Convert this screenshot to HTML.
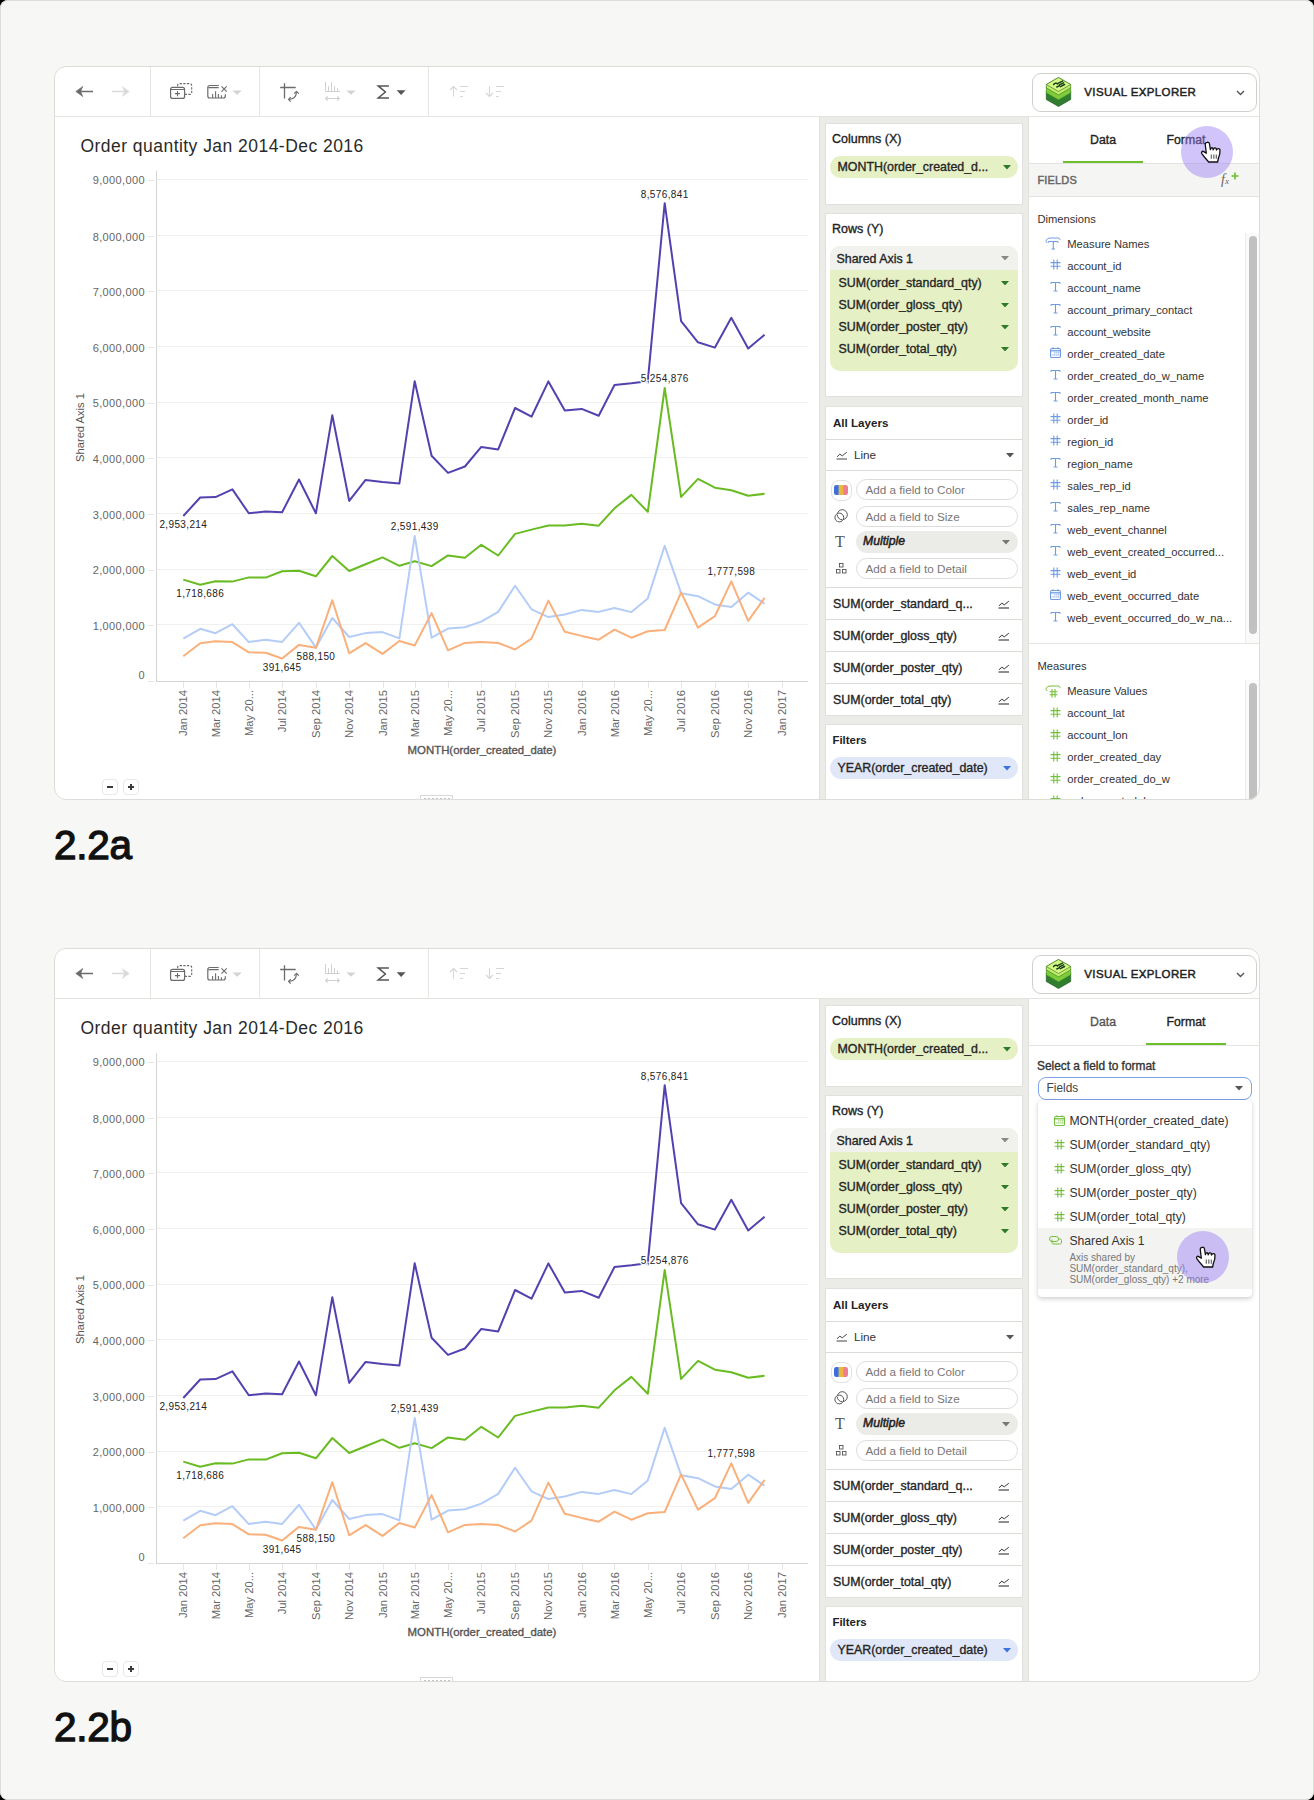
<!DOCTYPE html>
<html><head><meta charset="utf-8"><style>
*{margin:0;padding:0}
html,body{width:1314px;height:1800px;overflow:hidden;background:#000;font-family:"Liberation Sans", sans-serif;position:relative}
.pagebg{position:absolute;left:0;top:0;width:1314px;height:1800px;border-radius:8px;background:#f7f7f5}
.frame{position:absolute;left:0;top:0;width:1314px;height:1800px;border-radius:8px;border:1px solid #dcdeda;box-sizing:border-box;pointer-events:none}
i{font-style:normal;line-height:0;display:block}
svg{display:block}
.panel{position:absolute;left:54px;width:1206px;height:734px;box-sizing:border-box;border:1px solid #dcddd9;border-radius:12px;background:transparent}
.vs{position:absolute;width:1px;height:49px;background:#e6e6e3}
.title{position:absolute;left:80.5px;font-size:17.5px;letter-spacing:0.46px;color:#2a2a2a;line-height:21px;white-space:nowrap}
.yl{position:absolute;right:1169px;width:80px;text-align:right;font-size:11px;letter-spacing:0.38px;color:#666;line-height:14px;white-space:nowrap}
.yl{left:65px}
.xl{position:absolute;top:690px;width:60px;height:12px;transform-origin:0 0;transform:rotate(-90deg) translate(-60px,0);text-align:right;font-size:11.2px;color:#666;line-height:12px;white-space:nowrap}
.dl{position:absolute;width:80px;text-align:center;font-size:10px;letter-spacing:0.37px;color:#222;line-height:14px;white-space:nowrap;text-shadow:-1px 0 #fff,1px 0 #fff,0 -1px #fff,0 1px #fff,-1px -1px #fff,1px 1px #fff,-1px 1px #fff,1px -1px #fff}
.yt{position:absolute;left:73.8px;width:69px;height:12px;font-size:11.2px;color:#555;line-height:12px;white-space:nowrap;transform-origin:0 0;transform:rotate(-90deg) translate(-69px,0)}
.xt{position:absolute;left:382px;top:743.5px;width:200px;text-align:center;font-size:11.4px;font-weight:400;-webkit-text-stroke:0.35px #555;color:#555;line-height:13px;white-space:nowrap}
.zb{position:absolute;width:16px;height:16px;box-sizing:border-box;border:1px solid #e6e8e4;border-radius:4px;background:#fff;line-height:0}
.zb svg{position:absolute;left:-1px;top:-1px}
.mid{position:absolute;left:819px;width:209px;height:682px;background:#ebece8;border-left:1px solid #e0e1dd;box-sizing:border-box}
.card{position:absolute;left:825px;width:198px;box-sizing:border-box;border:1px solid #e0e1dd;background:#fff}
.lbl{position:absolute;font-size:12.5px;font-weight:400;-webkit-text-stroke:0.35px #222;color:#222;line-height:14px;white-space:nowrap}
.b11{position:absolute;font-size:12.4px;font-weight:400;-webkit-text-stroke:0.35px #252525;color:#252525;line-height:14px;white-space:nowrap}
.r12{position:absolute;font-size:11.7px;color:#333;line-height:14px;white-space:nowrap}
.bi{position:absolute;font-size:12.2px;font-weight:400;-webkit-text-stroke:0.5px #222;font-style:italic;color:#222;line-height:14px;white-space:nowrap}
.pill{position:absolute;border-radius:11px}
.pill.g{background:#e5f0c5}
.pill.b{background:#dfe7f8}
.pill span{position:absolute;top:4px;font-size:12.4px;font-weight:400;-webkit-text-stroke:0.35px #252525;color:#252525;line-height:14px;white-space:nowrap}
.pill i{position:absolute;line-height:0}
.hl{position:absolute;left:826px;width:196px;height:1px;background:#dadcd8}
.ibox{position:absolute;box-sizing:border-box;border:1px solid #e0e0de;background:#fff}
.inp{position:absolute;left:856px;width:162px;height:21px;box-sizing:border-box;border:1px solid #dcdcda;border-radius:10.5px;background:#fff}
.inp span{position:absolute;left:8.5px;top:3px;font-size:11.7px;color:#777;line-height:14px;white-space:nowrap}
.rp{position:absolute;left:1028px;width:231px;height:682px;background:#fff;border-left:1px solid #e0e1dd;box-sizing:border-box}
.tab{position:absolute;width:80px;text-align:center;font-size:12.3px;font-weight:400;-webkit-text-stroke:0.35px currentColor;line-height:14px}
.r11{position:absolute;font-size:11.2px;color:#333;line-height:14px;white-space:nowrap}
.r12b{position:absolute;font-size:12.2px;color:#333;line-height:15px;white-space:nowrap}
.track{position:absolute;left:1245px;width:14px;background:#fafafa;border-left:1px solid #ececec;box-sizing:border-box}
.thumb{position:absolute;left:1249px;width:8px;border-radius:4px;background:#c1c1c1}
.hl2{position:absolute;left:1029px;width:230px;height:1px;background:#e3e4e0}
.hl3{position:absolute;left:1029px;width:230px;height:1px;background:#e3e4e0}
.big{position:absolute;left:54px;font-size:40.5px;letter-spacing:-0.3px;font-weight:400;-webkit-text-stroke:1.3px #111;color:#111;line-height:46px}
</style></head><body><div class="pagebg"></div>
<div style="position:absolute;left:54px;top:66px;width:1206px;height:734px;overflow:hidden;border-radius:12px;background:#fff"><div style="position:absolute;left:-54px;top:-66px;width:1314px;height:1800px">
<div style="position:absolute;left:55px;top:116px;width:1204px;height:1px;background:#e3e4e0"></div>
<div class="vs" style="left:150px;top:67px"></div>
<div class="vs" style="left:259px;top:67px"></div>
<div class="vs" style="left:428px;top:67px"></div>

<svg style="position:absolute;left:0;top:0px" width="1314" height="130">
 <!-- back arrow -->
 <path d="M79 91.5H93" stroke="#6b6b6b" stroke-width="1.7"/>
 <path d="M75.8 91.5L82.8 86.4L80.6 91.5L82.8 96.6Z" fill="#6b6b6b" stroke="#6b6b6b" stroke-width="0.6" stroke-linejoin="round"/>
 <!-- fwd arrow -->
 <path d="M112 91.5H126" stroke="#d9d9d9" stroke-width="1.5"/>
 <path d="M129.2 91.5L122.4 86.6L124.5 91.5L122.4 96.4Z" fill="#d9d9d9" stroke="#d9d9d9" stroke-width="0.5" stroke-linejoin="round"/>
 <!-- duplicate -->
 <path d="M177.6 86.3V85.6Q177.6 83.6 179.6 83.6H189.7Q191.7 83.6 191.7 85.6V92.4Q191.7 94.4 189.7 94.4H185" stroke="#6b6b6b" stroke-width="1.1" fill="none" stroke-dasharray="2.3 1.3"/>
 <rect x="170.6" y="87.4" width="14" height="11" rx="2" stroke="#6b6b6b" stroke-width="1.2" fill="#fff"/>
 <path d="M170.6 89.5H184.6" stroke="#6b6b6b" stroke-width="1"/>
 <path d="M177.5 91V96.2M174.9 93.6H180.1" stroke="#6b6b6b" stroke-width="1.1"/>
 <!-- clear chart -->
 <path d="M218.7 85.5H209.8Q207.8 85.5 207.8 87.5V96Q207.8 98 209.8 98H223.3Q225.3 98 225.3 96V94.2" stroke="#6b6b6b" stroke-width="1.2" fill="none"/>
 <path d="M208.3 87.6H218.7" stroke="#6b6b6b" stroke-width="1.1"/>
 <path d="M212.6 98V94M215.6 98V91.2M218.4 98V94M221.4 98V95.2" stroke="#6b6b6b" stroke-width="1.1"/>
 <path d="M221.5 86.4L226.7 91.6M226.7 86.4L221.5 91.6" stroke="#6b6b6b" stroke-width="1.1"/>
 <path d="M232.4 90.5H241.8L237.1 94.8Z" fill="#d2d4d1"/>
 <!-- swap axes -->
 <path d="M280.2 87.5H295.7M284.5 83.2V98.6" stroke="#6b6b6b" stroke-width="1.3" fill="none"/>
 <path d="M289.2 99.3Q295.8 99.2 296.5 92.2" stroke="#6b6b6b" stroke-width="1.2" fill="none"/>
 <path d="M290.7 97.1L288.5 99.4L290.7 101.7M294.2 93.7L296.5 91.4L298.8 93.7" stroke="#6b6b6b" stroke-width="1.2" fill="none" stroke-linejoin="round"/>
 <!-- sort bars disabled -->
 <path d="M325.5 82V91.5H340M328.5 91V86.2M331.5 91V82.2M334.5 91V86.2M337.5 91V88.2" stroke="#d0d0d0" stroke-width="1" fill="none"/>
 <path d="M325.6 98.5H339.4M327.8 96.3L325.6 98.5L327.8 100.7M337.2 96.3L339.4 98.5L337.2 100.7" stroke="#d0d0d0" stroke-width="1.1" fill="none"/>
 <path d="M346.4 90.4H355.6L351 94.8Z" fill="#d2d4d1"/>
 <!-- sigma -->
 <path d="M388.9 85.9H378.2L385.4 92L378.2 98H389" stroke="#555" stroke-width="1.5" fill="none" stroke-linejoin="miter" stroke-miterlimit="10"/>
 <path d="M396.7 90.3H405.6L401.1 94.9Z" fill="#555"/>
 <!-- sort asc -->
 <path d="M453.5 96.6V86.8M450 90L453.5 86.5L457 90" stroke="#d6d6d6" stroke-width="1.1" fill="none"/>
 <path d="M460 86.5H468M460 91.5H465M460 96.5H463" stroke="#d6d6d6" stroke-width="1.1"/>
 <!-- sort desc -->
 <path d="M489.5 86.3V96.2M486 93L489.5 96.5L493 93" stroke="#d6d6d6" stroke-width="1.1" fill="none"/>
 <path d="M496 86.5H504M496 91.5H501M496 96.5H499" stroke="#d6d6d6" stroke-width="1.1"/>
</svg>
<div style="position:absolute;left:1031.5px;top:72.5px;width:225px;height:39px;box-sizing:border-box;border:1px solid #cfd0cc;border-radius:9px;background:#fff"></div>
<i style="position:absolute;left:1045px;top:76px;line-height:0"><svg width="27" height="32" viewBox="0 0 27 32"><path d="M13.5 8.2L25.7 15.2V23.5L13.5 30.5L1.3000000000000007 23.5V15.2Z" fill="#2f7d2f" stroke="#215f25" stroke-width="0.7" stroke-linejoin="round"/><path d="M13.5 4.6L25.7 11.6V16.8L13.5 23.8L1.3000000000000007 16.8V11.6Z" fill="#7ccd37" stroke="#4b9a2c" stroke-width="0.7" stroke-linejoin="round"/><path d="M13.5 1.5L25.7 8.5V11.9L13.5 18.9L1.3000000000000007 11.9V8.5Z" fill="#c3ec68" stroke="#3f7f27" stroke-width="0.7" stroke-linejoin="round"/><path d="M13.5 1.5L25.7 8.5L13.5 15.5L1.3000000000000007 8.5Z" fill="#d6f783" stroke="#3f7f27" stroke-width="0.7" stroke-linejoin="round"/><path d="M8.6 8.6c0.9-1.6 3.2-1.9 3.9-0.6M13.4 7.2l4.2-2.1M14.4 8.9l4.2-2.1M15.4 10.6l4.2-2.1M11.8 11l2.4-1.2" stroke="#173f1c" stroke-width="1.5" fill="none" stroke-linecap="round"/></svg></i>
<div style="position:absolute;left:1084.3px;top:86px;font-size:11.5px;font-weight:400;-webkit-text-stroke:0.45px #222;letter-spacing:0.38px;color:#222;line-height:13px">VISUAL EXPLORER</div>
<svg style="position:absolute;left:1236px;top:90px" width="9" height="6" viewBox="0 0 9 6"><path d="M1 1L4.5 4.5L8 1" stroke="#555" stroke-width="1.4" fill="none"/></svg>
<div class="title" style="top:136px">Order quantity Jan 2014-Dec 2016</div>
<svg style="position:absolute;left:0;top:0px" width="820" height="800"><line x1="157" y1="624.5" x2="808" y2="624.5" stroke="#f0f0ef" stroke-width="1"/>
<line x1="148" y1="625.5" x2="154" y2="625.5" stroke="#e6e6e4" stroke-width="1"/>
<line x1="157" y1="569.5" x2="808" y2="569.5" stroke="#f0f0ef" stroke-width="1"/>
<line x1="148" y1="570.5" x2="154" y2="570.5" stroke="#e6e6e4" stroke-width="1"/>
<line x1="157" y1="513.5" x2="808" y2="513.5" stroke="#f0f0ef" stroke-width="1"/>
<line x1="148" y1="514.5" x2="154" y2="514.5" stroke="#e6e6e4" stroke-width="1"/>
<line x1="157" y1="457.5" x2="808" y2="457.5" stroke="#f0f0ef" stroke-width="1"/>
<line x1="148" y1="458.5" x2="154" y2="458.5" stroke="#e6e6e4" stroke-width="1"/>
<line x1="157" y1="402.5" x2="808" y2="402.5" stroke="#f0f0ef" stroke-width="1"/>
<line x1="148" y1="403.5" x2="154" y2="403.5" stroke="#e6e6e4" stroke-width="1"/>
<line x1="157" y1="346.5" x2="808" y2="346.5" stroke="#f0f0ef" stroke-width="1"/>
<line x1="148" y1="347.5" x2="154" y2="347.5" stroke="#e6e6e4" stroke-width="1"/>
<line x1="157" y1="290.5" x2="808" y2="290.5" stroke="#f0f0ef" stroke-width="1"/>
<line x1="148" y1="291.5" x2="154" y2="291.5" stroke="#e6e6e4" stroke-width="1"/>
<line x1="157" y1="235.5" x2="808" y2="235.5" stroke="#f0f0ef" stroke-width="1"/>
<line x1="148" y1="236.5" x2="154" y2="236.5" stroke="#e6e6e4" stroke-width="1"/>
<line x1="157" y1="179.5" x2="808" y2="179.5" stroke="#f0f0ef" stroke-width="1"/>
<line x1="148" y1="180.5" x2="154" y2="180.5" stroke="#e6e6e4" stroke-width="1"/>
<line x1="156.5" y1="171" x2="156.5" y2="681" stroke="#d4d4d2" stroke-width="1"/>
<line x1="156" y1="681.5" x2="808" y2="681.5" stroke="#d4d4d2" stroke-width="1"/>
<line x1="148" y1="681.5" x2="154" y2="681.5" stroke="#e6e6e4" stroke-width="1"/>
<line x1="183.5" y1="682" x2="183.5" y2="688" stroke="#e6e6e4" stroke-width="1"/>
<line x1="216.5" y1="682" x2="216.5" y2="688" stroke="#e6e6e4" stroke-width="1"/>
<line x1="249.5" y1="682" x2="249.5" y2="688" stroke="#e6e6e4" stroke-width="1"/>
<line x1="282.5" y1="682" x2="282.5" y2="688" stroke="#e6e6e4" stroke-width="1"/>
<line x1="316.5" y1="682" x2="316.5" y2="688" stroke="#e6e6e4" stroke-width="1"/>
<line x1="349.5" y1="682" x2="349.5" y2="688" stroke="#e6e6e4" stroke-width="1"/>
<line x1="383.5" y1="682" x2="383.5" y2="688" stroke="#e6e6e4" stroke-width="1"/>
<line x1="415.5" y1="682" x2="415.5" y2="688" stroke="#e6e6e4" stroke-width="1"/>
<line x1="448.5" y1="682" x2="448.5" y2="688" stroke="#e6e6e4" stroke-width="1"/>
<line x1="481.5" y1="682" x2="481.5" y2="688" stroke="#e6e6e4" stroke-width="1"/>
<line x1="515.5" y1="682" x2="515.5" y2="688" stroke="#e6e6e4" stroke-width="1"/>
<line x1="548.5" y1="682" x2="548.5" y2="688" stroke="#e6e6e4" stroke-width="1"/>
<line x1="582.5" y1="682" x2="582.5" y2="688" stroke="#e6e6e4" stroke-width="1"/>
<line x1="614.5" y1="682" x2="614.5" y2="688" stroke="#e6e6e4" stroke-width="1"/>
<line x1="648.5" y1="682" x2="648.5" y2="688" stroke="#e6e6e4" stroke-width="1"/>
<line x1="681.5" y1="682" x2="681.5" y2="688" stroke="#e6e6e4" stroke-width="1"/>
<line x1="715.5" y1="682" x2="715.5" y2="688" stroke="#e6e6e4" stroke-width="1"/>
<line x1="748.5" y1="682" x2="748.5" y2="688" stroke="#e6e6e4" stroke-width="1"/>
<line x1="782.5" y1="682" x2="782.5" y2="688" stroke="#e6e6e4" stroke-width="1"/>
<polyline points="183.3,579.6 200.2,584.7 215.5,581.3 232.4,581.6 248.8,577.4 265.7,577.6 282.1,571.3 299.0,570.8 315.9,576.3 332.3,556.0 349.2,571.0 365.6,564.3 382.5,557.4 399.4,565.8 414.7,561.3 431.6,566.1 448.0,555.4 464.9,557.7 481.3,544.8 498.2,555.5 515.1,533.9 531.5,529.6 548.4,525.5 564.8,525.5 581.7,523.8 598.7,525.7 614.5,508.3 631.4,494.9 647.8,511.8 664.7,388.0 681.1,496.9 698.0,478.9 714.9,487.7 731.3,490.3 748.2,495.8 764.6,493.8" fill="none" stroke="#69bb22" stroke-width="2" stroke-linejoin="round"/>
<polyline points="183.3,638.6 200.2,628.8 215.5,633.2 232.4,624.2 248.8,642.1 265.7,639.7 282.1,641.9 299.0,622.8 315.9,647.6 332.3,618.0 349.2,637.0 365.6,633.1 382.5,632.1 399.4,638.4 414.7,536.1 431.6,637.7 448.0,628.6 464.9,627.3 481.3,621.6 498.2,611.9 515.1,585.7 531.5,609.3 548.4,617.1 564.8,614.5 581.7,609.9 598.7,611.9 614.5,608.0 631.4,612.1 647.8,598.4 664.7,545.8 681.1,593.2 698.0,596.2 714.9,604.4 731.3,607.0 748.2,592.7 764.6,603.6" fill="none" stroke="#b4ccf8" stroke-width="2" stroke-linejoin="round"/>
<polyline points="183.3,656.2 200.2,643.3 215.5,641.2 232.4,642.1 248.8,652.3 265.7,652.7 282.1,658.5 299.0,644.9 315.9,647.8 332.3,600.2 349.2,653.3 365.6,643.1 382.5,653.9 399.4,641.0 414.7,645.5 431.6,613.1 448.0,650.3 464.9,642.9 481.3,642.0 498.2,643.0 515.1,649.5 531.5,638.7 548.4,600.6 564.8,631.7 581.7,635.9 598.7,639.7 614.5,629.6 631.4,637.7 647.8,631.2 664.7,630.0 681.1,592.4 698.0,627.7 714.9,616.2 731.3,581.4 748.2,620.8 764.6,597.9" fill="none" stroke="#f9b07b" stroke-width="2" stroke-linejoin="round"/>
<polyline points="183.3,516.0 200.2,497.5 215.5,497.1 232.4,489.4 248.8,513.3 265.7,511.4 282.1,512.3 299.0,479.5 315.9,513.3 332.3,415.2 349.2,500.9 365.6,479.9 382.5,481.9 399.4,483.4 414.7,381.2 431.6,455.7 448.0,472.9 464.9,466.5 481.3,446.9 498.2,449.4 515.1,408.0 531.5,416.7 548.4,381.4 564.8,410.4 581.7,408.9 598.7,415.7 614.5,385.0 631.4,383.3 647.8,381.2 664.7,203.2 681.1,321.2 698.0,342.3 714.9,347.6 731.3,317.8 748.2,348.4 764.6,334.7" fill="none" stroke="#5540b0" stroke-width="2" stroke-linejoin="round"/></svg>
<div style="position:absolute;left:0;top:0px;width:1px;height:1px">
<div class="yl" style="top:668.2px">0</div>
<div class="yl" style="top:618.9px">1,000,000</div>
<div class="yl" style="top:563.2px">2,000,000</div>
<div class="yl" style="top:507.6px">3,000,000</div>
<div class="yl" style="top:452.0px">4,000,000</div>
<div class="yl" style="top:396.3px">5,000,000</div>
<div class="yl" style="top:340.7px">6,000,000</div>
<div class="yl" style="top:285.1px">7,000,000</div>
<div class="yl" style="top:229.5px">8,000,000</div>
<div class="yl" style="top:172.6px">9,000,000</div>
<div class="xl" style="left:177.3px">Jan 2014</div>
<div class="xl" style="left:209.5px">Mar 2014</div>
<div class="xl" style="left:242.8px">May 20...</div>
<div class="xl" style="left:276.1px">Jul 2014</div>
<div class="xl" style="left:309.9px">Sep 2014</div>
<div class="xl" style="left:343.2px">Nov 2014</div>
<div class="xl" style="left:376.5px">Jan 2015</div>
<div class="xl" style="left:408.7px">Mar 2015</div>
<div class="xl" style="left:442.0px">May 20...</div>
<div class="xl" style="left:475.3px">Jul 2015</div>
<div class="xl" style="left:509.1px">Sep 2015</div>
<div class="xl" style="left:542.4px">Nov 2015</div>
<div class="xl" style="left:575.7px">Jan 2016</div>
<div class="xl" style="left:608.5px">Mar 2016</div>
<div class="xl" style="left:641.8px">May 20...</div>
<div class="xl" style="left:675.1px">Jul 2016</div>
<div class="xl" style="left:708.9px">Sep 2016</div>
<div class="xl" style="left:742.2px">Nov 2016</div>
<div class="xl" style="left:775.5px">Jan 2017</div>
<div class="dl" style="left:624.7px;top:187.5px">8,576,841</div>
<div class="dl" style="left:624.7px;top:372.2px">5,254,876</div>
<div class="dl" style="left:143.3px;top:518.3px">2,953,214</div>
<div class="dl" style="left:374.7px;top:520.2px">2,591,439</div>
<div class="dl" style="left:160.2px;top:587.4px">1,718,686</div>
<div class="dl" style="left:691.3px;top:565.2px">1,777,598</div>
<div class="dl" style="left:275.9px;top:650.1px">588,150</div>
<div class="dl" style="left:242.1px;top:661.1px">391,645</div>
<div class="yt" style="top:393px">Shared Axis 1</div>
<div class="xt">MONTH(order_created_date)</div>
<div class="zb" style="left:102px;top:779px"><svg width="16" height="16"><path d="M5 8H11" stroke="#3a3a3a" stroke-width="2"/></svg></div>
<div class="zb" style="left:123px;top:779px"><svg width="16" height="16"><path d="M5 8H11M8 5V11" stroke="#3a3a3a" stroke-width="2"/></svg></div>
<div style="position:absolute;left:420px;top:795px;width:33px;height:6px;box-sizing:border-box;border:1px solid #d8d8d8;border-bottom:none;background:#fff"></div><svg style="position:absolute;left:422px;top:797px" width="30" height="2"><path d="M2 1.5H30" stroke="#c4c6c3" stroke-width="1" stroke-dasharray="2 2"/></svg>
</div>

<div class="mid" style="top:117px"></div>
<div class="card" style="top:123px;height:82px"></div>
<div class="lbl" style="left:832px;top:132px">Columns (X)</div>
<div class="pill g" style="left:830px;top:156px;width:188px;height:22px"><span style="left:7.5px">MONTH(order_created_d...</span><i style="left:172.5px;top:9px"><svg width="8" height="4.5" viewBox="0 0 8 4.5"><path d="M0 0H8L4 4.5Z" fill="#2c7a2a"/></svg></i></div>
<div class="card" style="top:213px;height:184px"></div>
<div class="lbl" style="left:832px;top:222px">Rows (Y)</div>
<div style="position:absolute;left:830px;top:246px;width:188px;height:125px;border-radius:10px;overflow:hidden;background:#e6f0c5">
  <div style="position:absolute;left:0;top:0;width:188px;height:24px;background:#f1f2ee"></div>
  <div class="b11" style="left:6.5px;top:5.8px">Shared Axis 1</div><i style="position:absolute;left:171px;top:9.5px"><svg width="8" height="4.5" viewBox="0 0 8 4.5"><path d="M0 0H8L4 4.5Z" fill="#888"/></svg></i>
  <div class="b11" style="left:8.5px;top:29.8px">SUM(order_standard_qty)</div><i style="position:absolute;left:171px;top:34.5px"><svg width="8" height="4.5" viewBox="0 0 8 4.5"><path d="M0 0H8L4 4.5Z" fill="#2c7a2a"/></svg></i>
  <div class="b11" style="left:8.5px;top:51.8px">SUM(order_gloss_qty)</div><i style="position:absolute;left:171px;top:56.5px"><svg width="8" height="4.5" viewBox="0 0 8 4.5"><path d="M0 0H8L4 4.5Z" fill="#2c7a2a"/></svg></i>
  <div class="b11" style="left:8.5px;top:73.8px">SUM(order_poster_qty)</div><i style="position:absolute;left:171px;top:78.5px"><svg width="8" height="4.5" viewBox="0 0 8 4.5"><path d="M0 0H8L4 4.5Z" fill="#2c7a2a"/></svg></i>
  <div class="b11" style="left:8.5px;top:95.8px">SUM(order_total_qty)</div><i style="position:absolute;left:171px;top:100.5px"><svg width="8" height="4.5" viewBox="0 0 8 4.5"><path d="M0 0H8L4 4.5Z" fill="#2c7a2a"/></svg></i>
</div>
<div class="card" style="top:406px;height:310px"></div>
<div class="lbl" style="left:833px;top:416px;font-weight:700;font-size:11.6px;-webkit-text-stroke:0">All Layers</div>
<div class="hl" style="top:439px"></div>
<i style="position:absolute;left:836px;top:450px"><svg width="12" height="10" viewBox="0 0 12 10"><path d="M1 6.8L3.8 4.2L6.3 5.8L10.8 2.2" stroke="#444" stroke-width="1" fill="none"/><path d="M0.5 9H11" stroke="#444" stroke-width="1"/></svg></i>
<div class="r12" style="left:854px;top:448px">Line</div>
<i style="position:absolute;left:1006px;top:453px"><svg width="8" height="4.5" viewBox="0 0 8 4.5"><path d="M0 0H8L4 4.5Z" fill="#555"/></svg></i>
<div class="hl" style="top:470px"></div>
<div class="ibox" style="left:830.5px;top:479.5px;width:21px;height:21px;border-radius:8px">
 <svg style="position:absolute;left:2.8px;top:4.5px" width="14" height="10" viewBox="0 0 14 10"><rect x="0" y="0" width="4.7" height="10" rx="2.3" fill="#3d6fdc"/><rect x="2.3" y="0" width="2.4" height="10" fill="#3d6fdc"/><rect x="4.7" y="0" width="4.6" height="10" fill="#e9b93c"/><rect x="9.3" y="0" width="4.7" height="10" rx="2.3" fill="#f07d8f"/><rect x="9.3" y="0" width="2.4" height="10" fill="#f07d8f"/></svg>
</div>
<div class="inp" style="top:479px"><span>Add a field to Color</span></div>
<svg style="position:absolute;left:834px;top:509px" width="14" height="14" viewBox="0 0 14 14"><circle cx="8.3" cy="5.7" r="5" fill="none" stroke="#555" stroke-width="1"/><circle cx="5.3" cy="8.5" r="4.4" fill="#fff" stroke="#555" stroke-width="1"/><path d="M8.3 10.7A5 5 0 0 1 3.3 5.7" fill="none" stroke="#555" stroke-width="1"/></svg>
<div class="inp" style="top:505.5px"><span>Add a field to Size</span></div>
<div style="position:absolute;left:835px;top:532px;font-family:'Liberation Serif',serif;font-size:16px;color:#555;line-height:20px">T</div>
<div style="position:absolute;left:856px;top:531px;width:162px;height:22px;border-radius:11px;background:#ebebe8"></div>
<div class="bi" style="left:863px;top:534px">Multiple</div>
<i style="position:absolute;left:1002px;top:540px"><svg width="8" height="4.5" viewBox="0 0 8 4.5"><path d="M0 0H8L4 4.5Z" fill="#777"/></svg></i>
<svg style="position:absolute;left:836px;top:562.5px" width="11" height="11" viewBox="0 0 11 11"><rect x="3.5" y="0.5" width="3.5" height="3.5" fill="none" stroke="#555" stroke-width="0.9"/><rect x="0.5" y="6.5" width="3.5" height="3.5" fill="none" stroke="#555" stroke-width="0.9"/><rect x="6.5" y="6.5" width="3.5" height="3.5" fill="none" stroke="#555" stroke-width="0.9"/></svg>
<div class="inp" style="top:557.5px"><span>Add a field to Detail</span></div>
<div class="hl" style="top:587px"></div>
<div class="b11" style="left:833px;top:597px">SUM(order_standard_q...</div><svg style="position:absolute;left:998px;top:599px" width="12" height="10" viewBox="0 0 12 10"><path d="M1 6.8L3.8 4.2L6.3 5.8L10.8 2.2" stroke="#333" stroke-width="1" fill="none"/><path d="M0.5 9H11" stroke="#333" stroke-width="1.1"/></svg><div class="hl" style="top:619px"></div><div class="b11" style="left:833px;top:629px">SUM(order_gloss_qty)</div><svg style="position:absolute;left:998px;top:631px" width="12" height="10" viewBox="0 0 12 10"><path d="M1 6.8L3.8 4.2L6.3 5.8L10.8 2.2" stroke="#333" stroke-width="1" fill="none"/><path d="M0.5 9H11" stroke="#333" stroke-width="1.1"/></svg><div class="hl" style="top:651px"></div><div class="b11" style="left:833px;top:661px">SUM(order_poster_qty)</div><svg style="position:absolute;left:998px;top:663px" width="12" height="10" viewBox="0 0 12 10"><path d="M1 6.8L3.8 4.2L6.3 5.8L10.8 2.2" stroke="#333" stroke-width="1" fill="none"/><path d="M0.5 9H11" stroke="#333" stroke-width="1.1"/></svg><div class="hl" style="top:683px"></div><div class="b11" style="left:833px;top:693px">SUM(order_total_qty)</div><svg style="position:absolute;left:998px;top:695px" width="12" height="10" viewBox="0 0 12 10"><path d="M1 6.8L3.8 4.2L6.3 5.8L10.8 2.2" stroke="#333" stroke-width="1" fill="none"/><path d="M0.5 9H11" stroke="#333" stroke-width="1.1"/></svg>
<div class="card" style="top:724px;height:90px"></div>
<div class="lbl" style="left:832.5px;top:733px;font-weight:700;font-size:11.4px;-webkit-text-stroke:0">Filters</div>
<div class="pill b" style="left:830px;top:757px;width:188px;height:22px"><span style="left:7.5px">YEAR(order_created_date)</span><i style="left:172.5px;top:9px"><svg width="8" height="4.5" viewBox="0 0 8 4.5"><path d="M0 0H8L4 4.5Z" fill="#3b72e0"/></svg></i></div>


<div class="rp" style="top:117px"></div>
<div class="tab" style="left:1063px;top:133px;color:#222">Data</div>
<div class="tab" style="left:1146px;top:133px;color:#222">Format</div>
<div style="position:absolute;left:1063px;top:161px;width:80px;height:2px;background:#6cbf2a"></div>
<div style="position:absolute;left:1029px;top:163px;width:230px;height:34px;background:#f5f5f3;border-top:1px solid #e2e2df;border-bottom:1px solid #e2e2df;box-sizing:border-box"></div>
<div style="position:absolute;left:1037.5px;top:174px;font-size:11px;font-weight:400;-webkit-text-stroke:0.45px #666;color:#666;letter-spacing:0.15px;line-height:13px">FIELDS</div>
<div style="position:absolute;left:1221px;top:172px;font-family:'Liberation Serif',serif;font-style:italic;font-size:14px;color:#666;line-height:16px">f<span style="font-size:9px">x</span></div>
<svg style="position:absolute;left:1231px;top:172px" width="8" height="8" viewBox="0 0 8 8"><path d="M4 0.5V7.5M0.5 4H7.5" stroke="#6cbf2a" stroke-width="1.6"/></svg>
<div class="r11" style="left:1037.4px;top:211.5px">Dimensions</div>
<div class="track" style="top:233px;height:410px"></div>
<div class="thumb" style="top:236px;height:398px"></div>
<div class="hl2" style="top:643px"></div>
<div class="r11" style="left:1037.4px;top:658.5px">Measures</div>
<div class="track" style="top:680px;height:119px"></div>
<div class="thumb" style="top:683px;height:130px"></div>
<i style="position:absolute;left:1045px;top:237.0px;line-height:0"><svg width="16" height="13" viewBox="0 0 16 13"><path d="M1 4.5C1 2 3 1 6 1H13C14.5 1 15 2 15 3" stroke="#6f9ae6" stroke-width="1" fill="none"/><path d="M3.5 4.5H13M8.3 4.5V12M6.5 12H10M3.5 4.5V5.8M13 4.5V5.8" stroke="#6f9ae6" stroke-width="1.1" fill="none"/><path d="M1 4.5L2.3 6" stroke="#6f9ae6" stroke-width="1"/></svg></i><div class="r11" style="left:1067.3px;top:236.5px">Measure Names</div><i style="position:absolute;left:1050px;top:259.0px;line-height:0"><svg width="11" height="11" viewBox="0 0 11 11"><path d="M3.8 0.5V10.5M7.2 0.5V10.5M0.5 3.6H10.5M0.5 7.2H10.5" stroke="#6f9ae6" stroke-width="1.1" fill="none"/></svg></i><div class="r11" style="left:1067.3px;top:258.5px">account_id</div><i style="position:absolute;left:1050px;top:281.0px;line-height:0"><svg width="11" height="11" viewBox="0 0 11 11"><path d="M1 1.5H10M5.5 1.5V10M3.5 10H7.5M1 1.5V3M10 1.5V3" stroke="#6f9ae6" stroke-width="1.1" fill="none"/></svg></i><div class="r11" style="left:1067.3px;top:280.5px">account_name</div><i style="position:absolute;left:1050px;top:303.0px;line-height:0"><svg width="11" height="11" viewBox="0 0 11 11"><path d="M1 1.5H10M5.5 1.5V10M3.5 10H7.5M1 1.5V3M10 1.5V3" stroke="#6f9ae6" stroke-width="1.1" fill="none"/></svg></i><div class="r11" style="left:1067.3px;top:302.5px">account_primary_contact</div><i style="position:absolute;left:1050px;top:325.0px;line-height:0"><svg width="11" height="11" viewBox="0 0 11 11"><path d="M1 1.5H10M5.5 1.5V10M3.5 10H7.5M1 1.5V3M10 1.5V3" stroke="#6f9ae6" stroke-width="1.1" fill="none"/></svg></i><div class="r11" style="left:1067.3px;top:324.5px">account_website</div><i style="position:absolute;left:1050px;top:347.0px;line-height:0"><svg width="11" height="11" viewBox="0 0 11 11"><rect x="0.55" y="1.55" width="9.9" height="8.9" rx="1.3" stroke="#6f9ae6" stroke-width="1.1" fill="none"/><path d="M0.6 3.8H10.4" stroke="#6f9ae6" stroke-width="1.3"/><path d="M3 0.2V2.3M8 0.2V2.3" stroke="#6f9ae6" stroke-width="1.1"/><g fill="#6f9ae6"><rect x="4.3" y="5.3" width="1.1" height="1.1"/><rect x="6.3" y="5.3" width="1.1" height="1.1"/><rect x="8.1" y="5.3" width="1.1" height="1.1"/><rect x="2.4" y="7.4" width="1.1" height="1.1"/><rect x="4.3" y="7.4" width="1.1" height="1.1"/><rect x="6.3" y="7.4" width="1.1" height="1.1"/><rect x="8.1" y="7.4" width="1.1" height="1.1"/></g></svg></i><div class="r11" style="left:1067.3px;top:346.5px">order_created_date</div><i style="position:absolute;left:1050px;top:369.0px;line-height:0"><svg width="11" height="11" viewBox="0 0 11 11"><path d="M1 1.5H10M5.5 1.5V10M3.5 10H7.5M1 1.5V3M10 1.5V3" stroke="#6f9ae6" stroke-width="1.1" fill="none"/></svg></i><div class="r11" style="left:1067.3px;top:368.5px">order_created_do_w_name</div><i style="position:absolute;left:1050px;top:391.0px;line-height:0"><svg width="11" height="11" viewBox="0 0 11 11"><path d="M1 1.5H10M5.5 1.5V10M3.5 10H7.5M1 1.5V3M10 1.5V3" stroke="#6f9ae6" stroke-width="1.1" fill="none"/></svg></i><div class="r11" style="left:1067.3px;top:390.5px">order_created_month_name</div><i style="position:absolute;left:1050px;top:413.0px;line-height:0"><svg width="11" height="11" viewBox="0 0 11 11"><path d="M3.8 0.5V10.5M7.2 0.5V10.5M0.5 3.6H10.5M0.5 7.2H10.5" stroke="#6f9ae6" stroke-width="1.1" fill="none"/></svg></i><div class="r11" style="left:1067.3px;top:412.5px">order_id</div><i style="position:absolute;left:1050px;top:435.0px;line-height:0"><svg width="11" height="11" viewBox="0 0 11 11"><path d="M3.8 0.5V10.5M7.2 0.5V10.5M0.5 3.6H10.5M0.5 7.2H10.5" stroke="#6f9ae6" stroke-width="1.1" fill="none"/></svg></i><div class="r11" style="left:1067.3px;top:434.5px">region_id</div><i style="position:absolute;left:1050px;top:457.0px;line-height:0"><svg width="11" height="11" viewBox="0 0 11 11"><path d="M1 1.5H10M5.5 1.5V10M3.5 10H7.5M1 1.5V3M10 1.5V3" stroke="#6f9ae6" stroke-width="1.1" fill="none"/></svg></i><div class="r11" style="left:1067.3px;top:456.5px">region_name</div><i style="position:absolute;left:1050px;top:479.0px;line-height:0"><svg width="11" height="11" viewBox="0 0 11 11"><path d="M3.8 0.5V10.5M7.2 0.5V10.5M0.5 3.6H10.5M0.5 7.2H10.5" stroke="#6f9ae6" stroke-width="1.1" fill="none"/></svg></i><div class="r11" style="left:1067.3px;top:478.5px">sales_rep_id</div><i style="position:absolute;left:1050px;top:501.0px;line-height:0"><svg width="11" height="11" viewBox="0 0 11 11"><path d="M1 1.5H10M5.5 1.5V10M3.5 10H7.5M1 1.5V3M10 1.5V3" stroke="#6f9ae6" stroke-width="1.1" fill="none"/></svg></i><div class="r11" style="left:1067.3px;top:500.5px">sales_rep_name</div><i style="position:absolute;left:1050px;top:523.0px;line-height:0"><svg width="11" height="11" viewBox="0 0 11 11"><path d="M1 1.5H10M5.5 1.5V10M3.5 10H7.5M1 1.5V3M10 1.5V3" stroke="#6f9ae6" stroke-width="1.1" fill="none"/></svg></i><div class="r11" style="left:1067.3px;top:522.5px">web_event_channel</div><i style="position:absolute;left:1050px;top:545.0px;line-height:0"><svg width="11" height="11" viewBox="0 0 11 11"><path d="M1 1.5H10M5.5 1.5V10M3.5 10H7.5M1 1.5V3M10 1.5V3" stroke="#6f9ae6" stroke-width="1.1" fill="none"/></svg></i><div class="r11" style="left:1067.3px;top:544.5px">web_event_created_occurred...</div><i style="position:absolute;left:1050px;top:567.0px;line-height:0"><svg width="11" height="11" viewBox="0 0 11 11"><path d="M3.8 0.5V10.5M7.2 0.5V10.5M0.5 3.6H10.5M0.5 7.2H10.5" stroke="#6f9ae6" stroke-width="1.1" fill="none"/></svg></i><div class="r11" style="left:1067.3px;top:566.5px">web_event_id</div><i style="position:absolute;left:1050px;top:589.0px;line-height:0"><svg width="11" height="11" viewBox="0 0 11 11"><rect x="0.55" y="1.55" width="9.9" height="8.9" rx="1.3" stroke="#6f9ae6" stroke-width="1.1" fill="none"/><path d="M0.6 3.8H10.4" stroke="#6f9ae6" stroke-width="1.3"/><path d="M3 0.2V2.3M8 0.2V2.3" stroke="#6f9ae6" stroke-width="1.1"/><g fill="#6f9ae6"><rect x="4.3" y="5.3" width="1.1" height="1.1"/><rect x="6.3" y="5.3" width="1.1" height="1.1"/><rect x="8.1" y="5.3" width="1.1" height="1.1"/><rect x="2.4" y="7.4" width="1.1" height="1.1"/><rect x="4.3" y="7.4" width="1.1" height="1.1"/><rect x="6.3" y="7.4" width="1.1" height="1.1"/><rect x="8.1" y="7.4" width="1.1" height="1.1"/></g></svg></i><div class="r11" style="left:1067.3px;top:588.5px">web_event_occurred_date</div><i style="position:absolute;left:1050px;top:611.0px;line-height:0"><svg width="11" height="11" viewBox="0 0 11 11"><path d="M1 1.5H10M5.5 1.5V10M3.5 10H7.5M1 1.5V3M10 1.5V3" stroke="#6f9ae6" stroke-width="1.1" fill="none"/></svg></i><div class="r11" style="left:1067.3px;top:610.5px">web_event_occurred_do_w_na...</div><i style="position:absolute;left:1045px;top:684.5px;line-height:0"><svg width="16" height="13" viewBox="0 0 16 13"><path d="M1 4.5C1 2 3 1 6 1H13C14.5 1 15 2 15 3" stroke="#74bf3a" stroke-width="1" fill="none"/><path d="M7 4V12.5M10 4V12.5M4.5 6.8H12.5M4.5 9.8H12.5" stroke="#74bf3a" stroke-width="1.1" fill="none"/><path d="M1 4.5L2.3 6" stroke="#74bf3a" stroke-width="1"/></svg></i><div class="r11" style="left:1067.3px;top:684.0px">Measure Values</div><i style="position:absolute;left:1050px;top:706.5px;line-height:0"><svg width="11" height="11" viewBox="0 0 11 11"><path d="M3.8 0.5V10.5M7.2 0.5V10.5M0.5 3.6H10.5M0.5 7.2H10.5" stroke="#74bf3a" stroke-width="1.1" fill="none"/></svg></i><div class="r11" style="left:1067.3px;top:706.0px">account_lat</div><i style="position:absolute;left:1050px;top:728.5px;line-height:0"><svg width="11" height="11" viewBox="0 0 11 11"><path d="M3.8 0.5V10.5M7.2 0.5V10.5M0.5 3.6H10.5M0.5 7.2H10.5" stroke="#74bf3a" stroke-width="1.1" fill="none"/></svg></i><div class="r11" style="left:1067.3px;top:728.0px">account_lon</div><i style="position:absolute;left:1050px;top:750.5px;line-height:0"><svg width="11" height="11" viewBox="0 0 11 11"><path d="M3.8 0.5V10.5M7.2 0.5V10.5M0.5 3.6H10.5M0.5 7.2H10.5" stroke="#74bf3a" stroke-width="1.1" fill="none"/></svg></i><div class="r11" style="left:1067.3px;top:750.0px">order_created_day</div><i style="position:absolute;left:1050px;top:772.5px;line-height:0"><svg width="11" height="11" viewBox="0 0 11 11"><path d="M3.8 0.5V10.5M7.2 0.5V10.5M0.5 3.6H10.5M0.5 7.2H10.5" stroke="#74bf3a" stroke-width="1.1" fill="none"/></svg></i><div class="r11" style="left:1067.3px;top:772.0px">order_created_do_w</div><i style="position:absolute;left:1050px;top:794.5px;line-height:0"><svg width="11" height="11" viewBox="0 0 11 11"><path d="M3.8 0.5V10.5M7.2 0.5V10.5M0.5 3.6H10.5M0.5 7.2H10.5" stroke="#74bf3a" stroke-width="1.1" fill="none"/></svg></i><div class="r11" style="left:1067.3px;top:794.0px">order_created_h...</div><div style="position:absolute;left:1180.5px;top:125.5px;width:52px;height:52px;border-radius:50%;background:rgba(150,125,245,0.45)"></div>
<svg style="position:absolute;left:1195px;top:135px" width="30" height="30" viewBox="0 0 30 30">
<path d="M12 7.3C13.3 7 14.3 7.8 14.5 9L15.4 14.6C15.5 12.8 17.6 12 17.9 13.6L18.2 14.8C18.6 12.6 20.9 12.2 21.2 13.9L21.5 15C22.1 13.4 24.7 13.1 25 14.8C25.3 17.5 24.6 20.5 23.2 24L22.6 27H13.6C11.5 24.5 8.8 21.5 6.8 18.6C6 17.3 7.3 15.6 8.8 16.6L11.3 18.2L10.3 10C10.1 8.3 10.8 7.4 12 7.3Z" fill="#fff" stroke="#111" stroke-width="1.3" stroke-linejoin="round"/>
<path d="M16.3 19.4V23.8M18.8 19.4V23.8M21.3 19.4V23.8" stroke="#666" stroke-width="1.2"/>
</svg>
</div></div>
<div class="panel" style="top:66px"></div>
<div class="big" style="top:822px">2.2a</div>
<div style="position:absolute;left:54px;top:948px;width:1206px;height:734px;overflow:hidden;border-radius:12px;background:#fff"><div style="position:absolute;left:-54px;top:-948px;width:1314px;height:1800px">
<div style="position:absolute;left:55px;top:998px;width:1204px;height:1px;background:#e3e4e0"></div>
<div class="vs" style="left:150px;top:949px"></div>
<div class="vs" style="left:259px;top:949px"></div>
<div class="vs" style="left:428px;top:949px"></div>

<svg style="position:absolute;left:0;top:882px" width="1314" height="130">
 <!-- back arrow -->
 <path d="M79 91.5H93" stroke="#6b6b6b" stroke-width="1.7"/>
 <path d="M75.8 91.5L82.8 86.4L80.6 91.5L82.8 96.6Z" fill="#6b6b6b" stroke="#6b6b6b" stroke-width="0.6" stroke-linejoin="round"/>
 <!-- fwd arrow -->
 <path d="M112 91.5H126" stroke="#d9d9d9" stroke-width="1.5"/>
 <path d="M129.2 91.5L122.4 86.6L124.5 91.5L122.4 96.4Z" fill="#d9d9d9" stroke="#d9d9d9" stroke-width="0.5" stroke-linejoin="round"/>
 <!-- duplicate -->
 <path d="M177.6 86.3V85.6Q177.6 83.6 179.6 83.6H189.7Q191.7 83.6 191.7 85.6V92.4Q191.7 94.4 189.7 94.4H185" stroke="#6b6b6b" stroke-width="1.1" fill="none" stroke-dasharray="2.3 1.3"/>
 <rect x="170.6" y="87.4" width="14" height="11" rx="2" stroke="#6b6b6b" stroke-width="1.2" fill="#fff"/>
 <path d="M170.6 89.5H184.6" stroke="#6b6b6b" stroke-width="1"/>
 <path d="M177.5 91V96.2M174.9 93.6H180.1" stroke="#6b6b6b" stroke-width="1.1"/>
 <!-- clear chart -->
 <path d="M218.7 85.5H209.8Q207.8 85.5 207.8 87.5V96Q207.8 98 209.8 98H223.3Q225.3 98 225.3 96V94.2" stroke="#6b6b6b" stroke-width="1.2" fill="none"/>
 <path d="M208.3 87.6H218.7" stroke="#6b6b6b" stroke-width="1.1"/>
 <path d="M212.6 98V94M215.6 98V91.2M218.4 98V94M221.4 98V95.2" stroke="#6b6b6b" stroke-width="1.1"/>
 <path d="M221.5 86.4L226.7 91.6M226.7 86.4L221.5 91.6" stroke="#6b6b6b" stroke-width="1.1"/>
 <path d="M232.4 90.5H241.8L237.1 94.8Z" fill="#d2d4d1"/>
 <!-- swap axes -->
 <path d="M280.2 87.5H295.7M284.5 83.2V98.6" stroke="#6b6b6b" stroke-width="1.3" fill="none"/>
 <path d="M289.2 99.3Q295.8 99.2 296.5 92.2" stroke="#6b6b6b" stroke-width="1.2" fill="none"/>
 <path d="M290.7 97.1L288.5 99.4L290.7 101.7M294.2 93.7L296.5 91.4L298.8 93.7" stroke="#6b6b6b" stroke-width="1.2" fill="none" stroke-linejoin="round"/>
 <!-- sort bars disabled -->
 <path d="M325.5 82V91.5H340M328.5 91V86.2M331.5 91V82.2M334.5 91V86.2M337.5 91V88.2" stroke="#d0d0d0" stroke-width="1" fill="none"/>
 <path d="M325.6 98.5H339.4M327.8 96.3L325.6 98.5L327.8 100.7M337.2 96.3L339.4 98.5L337.2 100.7" stroke="#d0d0d0" stroke-width="1.1" fill="none"/>
 <path d="M346.4 90.4H355.6L351 94.8Z" fill="#d2d4d1"/>
 <!-- sigma -->
 <path d="M388.9 85.9H378.2L385.4 92L378.2 98H389" stroke="#555" stroke-width="1.5" fill="none" stroke-linejoin="miter" stroke-miterlimit="10"/>
 <path d="M396.7 90.3H405.6L401.1 94.9Z" fill="#555"/>
 <!-- sort asc -->
 <path d="M453.5 96.6V86.8M450 90L453.5 86.5L457 90" stroke="#d6d6d6" stroke-width="1.1" fill="none"/>
 <path d="M460 86.5H468M460 91.5H465M460 96.5H463" stroke="#d6d6d6" stroke-width="1.1"/>
 <!-- sort desc -->
 <path d="M489.5 86.3V96.2M486 93L489.5 96.5L493 93" stroke="#d6d6d6" stroke-width="1.1" fill="none"/>
 <path d="M496 86.5H504M496 91.5H501M496 96.5H499" stroke="#d6d6d6" stroke-width="1.1"/>
</svg>
<div style="position:absolute;left:1031.5px;top:954.5px;width:225px;height:39px;box-sizing:border-box;border:1px solid #cfd0cc;border-radius:9px;background:#fff"></div>
<i style="position:absolute;left:1045px;top:958px;line-height:0"><svg width="27" height="32" viewBox="0 0 27 32"><path d="M13.5 8.2L25.7 15.2V23.5L13.5 30.5L1.3000000000000007 23.5V15.2Z" fill="#2f7d2f" stroke="#215f25" stroke-width="0.7" stroke-linejoin="round"/><path d="M13.5 4.6L25.7 11.6V16.8L13.5 23.8L1.3000000000000007 16.8V11.6Z" fill="#7ccd37" stroke="#4b9a2c" stroke-width="0.7" stroke-linejoin="round"/><path d="M13.5 1.5L25.7 8.5V11.9L13.5 18.9L1.3000000000000007 11.9V8.5Z" fill="#c3ec68" stroke="#3f7f27" stroke-width="0.7" stroke-linejoin="round"/><path d="M13.5 1.5L25.7 8.5L13.5 15.5L1.3000000000000007 8.5Z" fill="#d6f783" stroke="#3f7f27" stroke-width="0.7" stroke-linejoin="round"/><path d="M8.6 8.6c0.9-1.6 3.2-1.9 3.9-0.6M13.4 7.2l4.2-2.1M14.4 8.9l4.2-2.1M15.4 10.6l4.2-2.1M11.8 11l2.4-1.2" stroke="#173f1c" stroke-width="1.5" fill="none" stroke-linecap="round"/></svg></i>
<div style="position:absolute;left:1084.3px;top:968px;font-size:11.5px;font-weight:400;-webkit-text-stroke:0.45px #222;letter-spacing:0.38px;color:#222;line-height:13px">VISUAL EXPLORER</div>
<svg style="position:absolute;left:1236px;top:972px" width="9" height="6" viewBox="0 0 9 6"><path d="M1 1L4.5 4.5L8 1" stroke="#555" stroke-width="1.4" fill="none"/></svg>
<div class="title" style="top:1018px">Order quantity Jan 2014-Dec 2016</div>
<svg style="position:absolute;left:0;top:882px" width="820" height="800"><line x1="157" y1="624.5" x2="808" y2="624.5" stroke="#f0f0ef" stroke-width="1"/>
<line x1="148" y1="625.5" x2="154" y2="625.5" stroke="#e6e6e4" stroke-width="1"/>
<line x1="157" y1="569.5" x2="808" y2="569.5" stroke="#f0f0ef" stroke-width="1"/>
<line x1="148" y1="570.5" x2="154" y2="570.5" stroke="#e6e6e4" stroke-width="1"/>
<line x1="157" y1="513.5" x2="808" y2="513.5" stroke="#f0f0ef" stroke-width="1"/>
<line x1="148" y1="514.5" x2="154" y2="514.5" stroke="#e6e6e4" stroke-width="1"/>
<line x1="157" y1="457.5" x2="808" y2="457.5" stroke="#f0f0ef" stroke-width="1"/>
<line x1="148" y1="458.5" x2="154" y2="458.5" stroke="#e6e6e4" stroke-width="1"/>
<line x1="157" y1="402.5" x2="808" y2="402.5" stroke="#f0f0ef" stroke-width="1"/>
<line x1="148" y1="403.5" x2="154" y2="403.5" stroke="#e6e6e4" stroke-width="1"/>
<line x1="157" y1="346.5" x2="808" y2="346.5" stroke="#f0f0ef" stroke-width="1"/>
<line x1="148" y1="347.5" x2="154" y2="347.5" stroke="#e6e6e4" stroke-width="1"/>
<line x1="157" y1="290.5" x2="808" y2="290.5" stroke="#f0f0ef" stroke-width="1"/>
<line x1="148" y1="291.5" x2="154" y2="291.5" stroke="#e6e6e4" stroke-width="1"/>
<line x1="157" y1="235.5" x2="808" y2="235.5" stroke="#f0f0ef" stroke-width="1"/>
<line x1="148" y1="236.5" x2="154" y2="236.5" stroke="#e6e6e4" stroke-width="1"/>
<line x1="157" y1="179.5" x2="808" y2="179.5" stroke="#f0f0ef" stroke-width="1"/>
<line x1="148" y1="180.5" x2="154" y2="180.5" stroke="#e6e6e4" stroke-width="1"/>
<line x1="156.5" y1="171" x2="156.5" y2="681" stroke="#d4d4d2" stroke-width="1"/>
<line x1="156" y1="681.5" x2="808" y2="681.5" stroke="#d4d4d2" stroke-width="1"/>
<line x1="148" y1="681.5" x2="154" y2="681.5" stroke="#e6e6e4" stroke-width="1"/>
<line x1="183.5" y1="682" x2="183.5" y2="688" stroke="#e6e6e4" stroke-width="1"/>
<line x1="216.5" y1="682" x2="216.5" y2="688" stroke="#e6e6e4" stroke-width="1"/>
<line x1="249.5" y1="682" x2="249.5" y2="688" stroke="#e6e6e4" stroke-width="1"/>
<line x1="282.5" y1="682" x2="282.5" y2="688" stroke="#e6e6e4" stroke-width="1"/>
<line x1="316.5" y1="682" x2="316.5" y2="688" stroke="#e6e6e4" stroke-width="1"/>
<line x1="349.5" y1="682" x2="349.5" y2="688" stroke="#e6e6e4" stroke-width="1"/>
<line x1="383.5" y1="682" x2="383.5" y2="688" stroke="#e6e6e4" stroke-width="1"/>
<line x1="415.5" y1="682" x2="415.5" y2="688" stroke="#e6e6e4" stroke-width="1"/>
<line x1="448.5" y1="682" x2="448.5" y2="688" stroke="#e6e6e4" stroke-width="1"/>
<line x1="481.5" y1="682" x2="481.5" y2="688" stroke="#e6e6e4" stroke-width="1"/>
<line x1="515.5" y1="682" x2="515.5" y2="688" stroke="#e6e6e4" stroke-width="1"/>
<line x1="548.5" y1="682" x2="548.5" y2="688" stroke="#e6e6e4" stroke-width="1"/>
<line x1="582.5" y1="682" x2="582.5" y2="688" stroke="#e6e6e4" stroke-width="1"/>
<line x1="614.5" y1="682" x2="614.5" y2="688" stroke="#e6e6e4" stroke-width="1"/>
<line x1="648.5" y1="682" x2="648.5" y2="688" stroke="#e6e6e4" stroke-width="1"/>
<line x1="681.5" y1="682" x2="681.5" y2="688" stroke="#e6e6e4" stroke-width="1"/>
<line x1="715.5" y1="682" x2="715.5" y2="688" stroke="#e6e6e4" stroke-width="1"/>
<line x1="748.5" y1="682" x2="748.5" y2="688" stroke="#e6e6e4" stroke-width="1"/>
<line x1="782.5" y1="682" x2="782.5" y2="688" stroke="#e6e6e4" stroke-width="1"/>
<polyline points="183.3,579.6 200.2,584.7 215.5,581.3 232.4,581.6 248.8,577.4 265.7,577.6 282.1,571.3 299.0,570.8 315.9,576.3 332.3,556.0 349.2,571.0 365.6,564.3 382.5,557.4 399.4,565.8 414.7,561.3 431.6,566.1 448.0,555.4 464.9,557.7 481.3,544.8 498.2,555.5 515.1,533.9 531.5,529.6 548.4,525.5 564.8,525.5 581.7,523.8 598.7,525.7 614.5,508.3 631.4,494.9 647.8,511.8 664.7,388.0 681.1,496.9 698.0,478.9 714.9,487.7 731.3,490.3 748.2,495.8 764.6,493.8" fill="none" stroke="#69bb22" stroke-width="2" stroke-linejoin="round"/>
<polyline points="183.3,638.6 200.2,628.8 215.5,633.2 232.4,624.2 248.8,642.1 265.7,639.7 282.1,641.9 299.0,622.8 315.9,647.6 332.3,618.0 349.2,637.0 365.6,633.1 382.5,632.1 399.4,638.4 414.7,536.1 431.6,637.7 448.0,628.6 464.9,627.3 481.3,621.6 498.2,611.9 515.1,585.7 531.5,609.3 548.4,617.1 564.8,614.5 581.7,609.9 598.7,611.9 614.5,608.0 631.4,612.1 647.8,598.4 664.7,545.8 681.1,593.2 698.0,596.2 714.9,604.4 731.3,607.0 748.2,592.7 764.6,603.6" fill="none" stroke="#b4ccf8" stroke-width="2" stroke-linejoin="round"/>
<polyline points="183.3,656.2 200.2,643.3 215.5,641.2 232.4,642.1 248.8,652.3 265.7,652.7 282.1,658.5 299.0,644.9 315.9,647.8 332.3,600.2 349.2,653.3 365.6,643.1 382.5,653.9 399.4,641.0 414.7,645.5 431.6,613.1 448.0,650.3 464.9,642.9 481.3,642.0 498.2,643.0 515.1,649.5 531.5,638.7 548.4,600.6 564.8,631.7 581.7,635.9 598.7,639.7 614.5,629.6 631.4,637.7 647.8,631.2 664.7,630.0 681.1,592.4 698.0,627.7 714.9,616.2 731.3,581.4 748.2,620.8 764.6,597.9" fill="none" stroke="#f9b07b" stroke-width="2" stroke-linejoin="round"/>
<polyline points="183.3,516.0 200.2,497.5 215.5,497.1 232.4,489.4 248.8,513.3 265.7,511.4 282.1,512.3 299.0,479.5 315.9,513.3 332.3,415.2 349.2,500.9 365.6,479.9 382.5,481.9 399.4,483.4 414.7,381.2 431.6,455.7 448.0,472.9 464.9,466.5 481.3,446.9 498.2,449.4 515.1,408.0 531.5,416.7 548.4,381.4 564.8,410.4 581.7,408.9 598.7,415.7 614.5,385.0 631.4,383.3 647.8,381.2 664.7,203.2 681.1,321.2 698.0,342.3 714.9,347.6 731.3,317.8 748.2,348.4 764.6,334.7" fill="none" stroke="#5540b0" stroke-width="2" stroke-linejoin="round"/></svg>
<div style="position:absolute;left:0;top:882px;width:1px;height:1px">
<div class="yl" style="top:668.2px">0</div>
<div class="yl" style="top:618.9px">1,000,000</div>
<div class="yl" style="top:563.2px">2,000,000</div>
<div class="yl" style="top:507.6px">3,000,000</div>
<div class="yl" style="top:452.0px">4,000,000</div>
<div class="yl" style="top:396.3px">5,000,000</div>
<div class="yl" style="top:340.7px">6,000,000</div>
<div class="yl" style="top:285.1px">7,000,000</div>
<div class="yl" style="top:229.5px">8,000,000</div>
<div class="yl" style="top:172.6px">9,000,000</div>
<div class="xl" style="left:177.3px">Jan 2014</div>
<div class="xl" style="left:209.5px">Mar 2014</div>
<div class="xl" style="left:242.8px">May 20...</div>
<div class="xl" style="left:276.1px">Jul 2014</div>
<div class="xl" style="left:309.9px">Sep 2014</div>
<div class="xl" style="left:343.2px">Nov 2014</div>
<div class="xl" style="left:376.5px">Jan 2015</div>
<div class="xl" style="left:408.7px">Mar 2015</div>
<div class="xl" style="left:442.0px">May 20...</div>
<div class="xl" style="left:475.3px">Jul 2015</div>
<div class="xl" style="left:509.1px">Sep 2015</div>
<div class="xl" style="left:542.4px">Nov 2015</div>
<div class="xl" style="left:575.7px">Jan 2016</div>
<div class="xl" style="left:608.5px">Mar 2016</div>
<div class="xl" style="left:641.8px">May 20...</div>
<div class="xl" style="left:675.1px">Jul 2016</div>
<div class="xl" style="left:708.9px">Sep 2016</div>
<div class="xl" style="left:742.2px">Nov 2016</div>
<div class="xl" style="left:775.5px">Jan 2017</div>
<div class="dl" style="left:624.7px;top:187.5px">8,576,841</div>
<div class="dl" style="left:624.7px;top:372.2px">5,254,876</div>
<div class="dl" style="left:143.3px;top:518.3px">2,953,214</div>
<div class="dl" style="left:374.7px;top:520.2px">2,591,439</div>
<div class="dl" style="left:160.2px;top:587.4px">1,718,686</div>
<div class="dl" style="left:691.3px;top:565.2px">1,777,598</div>
<div class="dl" style="left:275.9px;top:650.1px">588,150</div>
<div class="dl" style="left:242.1px;top:661.1px">391,645</div>
<div class="yt" style="top:393px">Shared Axis 1</div>
<div class="xt">MONTH(order_created_date)</div>
<div class="zb" style="left:102px;top:779px"><svg width="16" height="16"><path d="M5 8H11" stroke="#3a3a3a" stroke-width="2"/></svg></div>
<div class="zb" style="left:123px;top:779px"><svg width="16" height="16"><path d="M5 8H11M8 5V11" stroke="#3a3a3a" stroke-width="2"/></svg></div>
<div style="position:absolute;left:420px;top:795px;width:33px;height:6px;box-sizing:border-box;border:1px solid #d8d8d8;border-bottom:none;background:#fff"></div><svg style="position:absolute;left:422px;top:797px" width="30" height="2"><path d="M2 1.5H30" stroke="#c4c6c3" stroke-width="1" stroke-dasharray="2 2"/></svg>
</div>

<div class="mid" style="top:999px"></div>
<div class="card" style="top:1005px;height:82px"></div>
<div class="lbl" style="left:832px;top:1014px">Columns (X)</div>
<div class="pill g" style="left:830px;top:1038px;width:188px;height:22px"><span style="left:7.5px">MONTH(order_created_d...</span><i style="left:172.5px;top:9px"><svg width="8" height="4.5" viewBox="0 0 8 4.5"><path d="M0 0H8L4 4.5Z" fill="#2c7a2a"/></svg></i></div>
<div class="card" style="top:1095px;height:184px"></div>
<div class="lbl" style="left:832px;top:1104px">Rows (Y)</div>
<div style="position:absolute;left:830px;top:1128px;width:188px;height:125px;border-radius:10px;overflow:hidden;background:#e6f0c5">
  <div style="position:absolute;left:0;top:0;width:188px;height:24px;background:#f1f2ee"></div>
  <div class="b11" style="left:6.5px;top:5.8px">Shared Axis 1</div><i style="position:absolute;left:171px;top:9.5px"><svg width="8" height="4.5" viewBox="0 0 8 4.5"><path d="M0 0H8L4 4.5Z" fill="#888"/></svg></i>
  <div class="b11" style="left:8.5px;top:29.8px">SUM(order_standard_qty)</div><i style="position:absolute;left:171px;top:34.5px"><svg width="8" height="4.5" viewBox="0 0 8 4.5"><path d="M0 0H8L4 4.5Z" fill="#2c7a2a"/></svg></i>
  <div class="b11" style="left:8.5px;top:51.8px">SUM(order_gloss_qty)</div><i style="position:absolute;left:171px;top:56.5px"><svg width="8" height="4.5" viewBox="0 0 8 4.5"><path d="M0 0H8L4 4.5Z" fill="#2c7a2a"/></svg></i>
  <div class="b11" style="left:8.5px;top:73.8px">SUM(order_poster_qty)</div><i style="position:absolute;left:171px;top:78.5px"><svg width="8" height="4.5" viewBox="0 0 8 4.5"><path d="M0 0H8L4 4.5Z" fill="#2c7a2a"/></svg></i>
  <div class="b11" style="left:8.5px;top:95.8px">SUM(order_total_qty)</div><i style="position:absolute;left:171px;top:100.5px"><svg width="8" height="4.5" viewBox="0 0 8 4.5"><path d="M0 0H8L4 4.5Z" fill="#2c7a2a"/></svg></i>
</div>
<div class="card" style="top:1288px;height:310px"></div>
<div class="lbl" style="left:833px;top:1298px;font-weight:700;font-size:11.6px;-webkit-text-stroke:0">All Layers</div>
<div class="hl" style="top:1321px"></div>
<i style="position:absolute;left:836px;top:1332px"><svg width="12" height="10" viewBox="0 0 12 10"><path d="M1 6.8L3.8 4.2L6.3 5.8L10.8 2.2" stroke="#444" stroke-width="1" fill="none"/><path d="M0.5 9H11" stroke="#444" stroke-width="1"/></svg></i>
<div class="r12" style="left:854px;top:1330px">Line</div>
<i style="position:absolute;left:1006px;top:1335px"><svg width="8" height="4.5" viewBox="0 0 8 4.5"><path d="M0 0H8L4 4.5Z" fill="#555"/></svg></i>
<div class="hl" style="top:1352px"></div>
<div class="ibox" style="left:830.5px;top:1361.5px;width:21px;height:21px;border-radius:8px">
 <svg style="position:absolute;left:2.8px;top:4.5px" width="14" height="10" viewBox="0 0 14 10"><rect x="0" y="0" width="4.7" height="10" rx="2.3" fill="#3d6fdc"/><rect x="2.3" y="0" width="2.4" height="10" fill="#3d6fdc"/><rect x="4.7" y="0" width="4.6" height="10" fill="#e9b93c"/><rect x="9.3" y="0" width="4.7" height="10" rx="2.3" fill="#f07d8f"/><rect x="9.3" y="0" width="2.4" height="10" fill="#f07d8f"/></svg>
</div>
<div class="inp" style="top:1361px"><span>Add a field to Color</span></div>
<svg style="position:absolute;left:834px;top:1391px" width="14" height="14" viewBox="0 0 14 14"><circle cx="8.3" cy="5.7" r="5" fill="none" stroke="#555" stroke-width="1"/><circle cx="5.3" cy="8.5" r="4.4" fill="#fff" stroke="#555" stroke-width="1"/><path d="M8.3 10.7A5 5 0 0 1 3.3 5.7" fill="none" stroke="#555" stroke-width="1"/></svg>
<div class="inp" style="top:1387.5px"><span>Add a field to Size</span></div>
<div style="position:absolute;left:835px;top:1414px;font-family:'Liberation Serif',serif;font-size:16px;color:#555;line-height:20px">T</div>
<div style="position:absolute;left:856px;top:1413px;width:162px;height:22px;border-radius:11px;background:#ebebe8"></div>
<div class="bi" style="left:863px;top:1416px">Multiple</div>
<i style="position:absolute;left:1002px;top:1422px"><svg width="8" height="4.5" viewBox="0 0 8 4.5"><path d="M0 0H8L4 4.5Z" fill="#777"/></svg></i>
<svg style="position:absolute;left:836px;top:1444.5px" width="11" height="11" viewBox="0 0 11 11"><rect x="3.5" y="0.5" width="3.5" height="3.5" fill="none" stroke="#555" stroke-width="0.9"/><rect x="0.5" y="6.5" width="3.5" height="3.5" fill="none" stroke="#555" stroke-width="0.9"/><rect x="6.5" y="6.5" width="3.5" height="3.5" fill="none" stroke="#555" stroke-width="0.9"/></svg>
<div class="inp" style="top:1439.5px"><span>Add a field to Detail</span></div>
<div class="hl" style="top:1469px"></div>
<div class="b11" style="left:833px;top:1479px">SUM(order_standard_q...</div><svg style="position:absolute;left:998px;top:1481px" width="12" height="10" viewBox="0 0 12 10"><path d="M1 6.8L3.8 4.2L6.3 5.8L10.8 2.2" stroke="#333" stroke-width="1" fill="none"/><path d="M0.5 9H11" stroke="#333" stroke-width="1.1"/></svg><div class="hl" style="top:1501px"></div><div class="b11" style="left:833px;top:1511px">SUM(order_gloss_qty)</div><svg style="position:absolute;left:998px;top:1513px" width="12" height="10" viewBox="0 0 12 10"><path d="M1 6.8L3.8 4.2L6.3 5.8L10.8 2.2" stroke="#333" stroke-width="1" fill="none"/><path d="M0.5 9H11" stroke="#333" stroke-width="1.1"/></svg><div class="hl" style="top:1533px"></div><div class="b11" style="left:833px;top:1543px">SUM(order_poster_qty)</div><svg style="position:absolute;left:998px;top:1545px" width="12" height="10" viewBox="0 0 12 10"><path d="M1 6.8L3.8 4.2L6.3 5.8L10.8 2.2" stroke="#333" stroke-width="1" fill="none"/><path d="M0.5 9H11" stroke="#333" stroke-width="1.1"/></svg><div class="hl" style="top:1565px"></div><div class="b11" style="left:833px;top:1575px">SUM(order_total_qty)</div><svg style="position:absolute;left:998px;top:1577px" width="12" height="10" viewBox="0 0 12 10"><path d="M1 6.8L3.8 4.2L6.3 5.8L10.8 2.2" stroke="#333" stroke-width="1" fill="none"/><path d="M0.5 9H11" stroke="#333" stroke-width="1.1"/></svg>
<div class="card" style="top:1606px;height:90px"></div>
<div class="lbl" style="left:832.5px;top:1615px;font-weight:700;font-size:11.4px;-webkit-text-stroke:0">Filters</div>
<div class="pill b" style="left:830px;top:1639px;width:188px;height:22px"><span style="left:7.5px">YEAR(order_created_date)</span><i style="left:172.5px;top:9px"><svg width="8" height="4.5" viewBox="0 0 8 4.5"><path d="M0 0H8L4 4.5Z" fill="#3b72e0"/></svg></i></div>


<div class="rp" style="top:999px"></div>
<div class="tab" style="left:1063px;top:1015px;color:#555">Data</div>
<div class="tab" style="left:1146px;top:1015px;color:#222">Format</div>
<div style="position:absolute;left:1146px;top:1043px;width:80px;height:2px;background:#6cbf2a"></div>
<div class="hl3" style="top:1045px"></div>
<div style="position:absolute;left:1037px;top:1060px;font-size:11.9px;font-weight:400;-webkit-text-stroke:0.35px #333;color:#333;line-height:13px">Select a field to format</div>
<div style="position:absolute;left:1037.5px;top:1076.5px;width:214px;height:23px;box-sizing:border-box;border:1px solid #7ea3ea;border-radius:8px;background:#fff"></div>
<div style="position:absolute;left:1046.6px;top:1080.5px;font-size:11.9px;color:#444;line-height:15px">Fields</div>
<i style="position:absolute;left:1235px;top:1086px;line-height:0"><svg width="8" height="4.5" viewBox="0 0 8 4.5"><path d="M0 0H8L4 4.5Z" fill="#555"/></svg></i>
<div style="position:absolute;left:1037.5px;top:1100px;width:214px;height:197px;background:#fff;border-radius:4px;box-shadow:0 2px 5px rgba(0,0,0,0.18),0 0 1px rgba(0,0,0,0.12)"></div>
<div style="position:absolute;left:1037.5px;top:1228px;width:214px;height:61px;background:#f3f3f2"></div>
<i style="position:absolute;left:1054px;top:1115.1px;line-height:0"><svg width="11" height="11" viewBox="0 0 11 11"><rect x="0.55" y="1.55" width="9.9" height="8.9" rx="1.3" stroke="#74bf3a" stroke-width="1.1" fill="none"/><path d="M0.6 3.8H10.4" stroke="#74bf3a" stroke-width="1.3"/><path d="M3 0.2V2.3M8 0.2V2.3" stroke="#74bf3a" stroke-width="1.1"/><g fill="#74bf3a"><rect x="4.3" y="5.3" width="1.1" height="1.1"/><rect x="6.3" y="5.3" width="1.1" height="1.1"/><rect x="8.1" y="5.3" width="1.1" height="1.1"/><rect x="2.4" y="7.4" width="1.1" height="1.1"/><rect x="4.3" y="7.4" width="1.1" height="1.1"/><rect x="6.3" y="7.4" width="1.1" height="1.1"/><rect x="8.1" y="7.4" width="1.1" height="1.1"/></g></svg></i><div class="r12b" style="left:1069.4px;top:1113.6px">MONTH(order_created_date)</div><i style="position:absolute;left:1054px;top:1139.1px;line-height:0"><svg width="11" height="11" viewBox="0 0 11 11"><path d="M3.8 0.5V10.5M7.2 0.5V10.5M0.5 3.6H10.5M0.5 7.2H10.5" stroke="#74bf3a" stroke-width="1.1" fill="none"/></svg></i><div class="r12b" style="left:1069.4px;top:1137.6px">SUM(order_standard_qty)</div><i style="position:absolute;left:1054px;top:1163.1px;line-height:0"><svg width="11" height="11" viewBox="0 0 11 11"><path d="M3.8 0.5V10.5M7.2 0.5V10.5M0.5 3.6H10.5M0.5 7.2H10.5" stroke="#74bf3a" stroke-width="1.1" fill="none"/></svg></i><div class="r12b" style="left:1069.4px;top:1161.6px">SUM(order_gloss_qty)</div><i style="position:absolute;left:1054px;top:1187.1px;line-height:0"><svg width="11" height="11" viewBox="0 0 11 11"><path d="M3.8 0.5V10.5M7.2 0.5V10.5M0.5 3.6H10.5M0.5 7.2H10.5" stroke="#74bf3a" stroke-width="1.1" fill="none"/></svg></i><div class="r12b" style="left:1069.4px;top:1185.6px">SUM(order_poster_qty)</div><i style="position:absolute;left:1054px;top:1211.1px;line-height:0"><svg width="11" height="11" viewBox="0 0 11 11"><path d="M3.8 0.5V10.5M7.2 0.5V10.5M0.5 3.6H10.5M0.5 7.2H10.5" stroke="#74bf3a" stroke-width="1.1" fill="none"/></svg></i><div class="r12b" style="left:1069.4px;top:1209.6px">SUM(order_total_qty)</div><svg style="position:absolute;left:1048.5px;top:1235.6px" width="13" height="9" viewBox="0 0 13 9"><rect x="0.5" y="0.5" width="9" height="5" rx="2.5" fill="none" stroke="#74bf3a" stroke-width="1"/><path d="M3 3.5V6C3 7.5 3.5 8 5 8H10.5C12 8 12.5 7.5 12.5 6V4.5C12.5 3.5 12 3 11 3H9.5" fill="none" stroke="#74bf3a" stroke-width="1"/></svg><div class="r12b" style="left:1069.4px;top:1233.6px">Shared Axis 1</div><div style="position:absolute;left:1069.4px;top:1251.5px;font-size:10px;color:#777;line-height:11.1px">Axis shared by<br>SUM(order_standard_qty),<br>SUM(order_gloss_qty) +2 more</div><div style="position:absolute;left:1177px;top:1231.4px;width:52px;height:52px;border-radius:50%;background:rgba(150,125,245,0.45)"></div>
<svg style="position:absolute;left:1190px;top:1240px" width="30" height="30" viewBox="0 0 30 30">
<path d="M12 7.3C13.3 7 14.3 7.8 14.5 9L15.4 14.6C15.5 12.8 17.6 12 17.9 13.6L18.2 14.8C18.6 12.6 20.9 12.2 21.2 13.9L21.5 15C22.1 13.4 24.7 13.1 25 14.8C25.3 17.5 24.6 20.5 23.2 24L22.6 27H13.6C11.5 24.5 8.8 21.5 6.8 18.6C6 17.3 7.3 15.6 8.8 16.6L11.3 18.2L10.3 10C10.1 8.3 10.8 7.4 12 7.3Z" fill="#fff" stroke="#111" stroke-width="1.3" stroke-linejoin="round"/>
<path d="M16.3 19.4V23.8M18.8 19.4V23.8M21.3 19.4V23.8" stroke="#666" stroke-width="1.2"/>
</svg>
</div></div>
<div class="panel" style="top:948px"></div>
<div class="big" style="top:1704px">2.2b</div><div class="frame"></div></body></html>
